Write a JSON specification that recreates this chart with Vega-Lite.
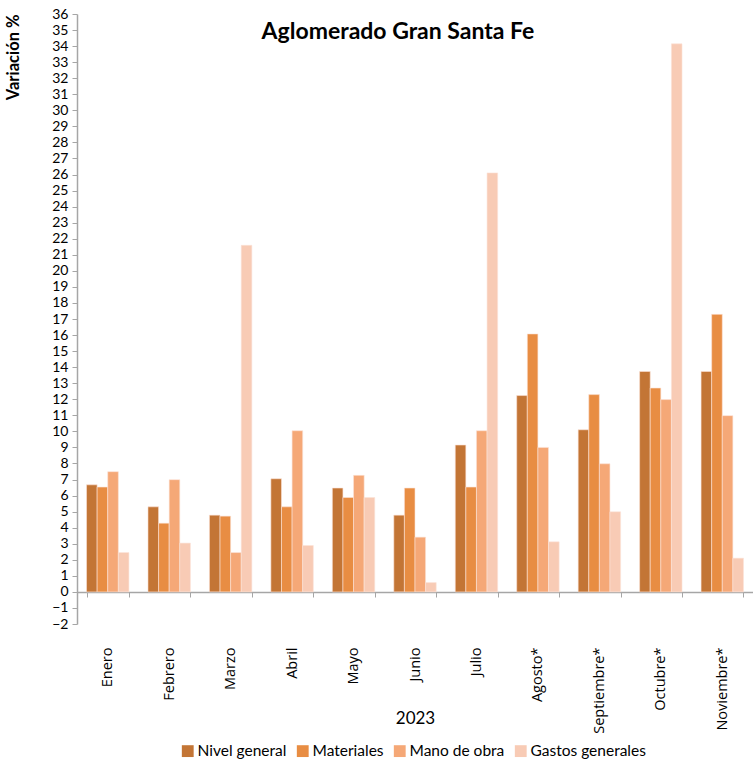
{
  "$schema": "https://vega.github.io/schema/vega-lite/v6.json",
  "autosize": {"type": "none"},
  "width": 676,
  "height": 610,
  "padding": {"left": 77, "top": 14, "right": 0, "bottom": 141},
  "background": "white",
  "config": {"view": {"stroke": null}, "font": "Lato"},
  "title": {"text": "Aglomerado Gran Santa Fe", "fontSize": 23, "fontWeight": "bold", "font": "Lato", "color": "black", "anchor": "middle", "offset": 0, "dy": 37, "dx": -17},
  "data": {"values": [
    {"mes": "Enero", "serie": "Nivel general", "v": 6.67},
    {"mes": "Enero", "serie": "Materiales", "v": 6.53},
    {"mes": "Enero", "serie": "Mano de obra", "v": 7.49},
    {"mes": "Enero", "serie": "Gastos generales", "v": 2.45},
    {"mes": "Febrero", "serie": "Nivel general", "v": 5.30},
    {"mes": "Febrero", "serie": "Materiales", "v": 4.28},
    {"mes": "Febrero", "serie": "Mano de obra", "v": 6.99},
    {"mes": "Febrero", "serie": "Gastos generales", "v": 3.04},
    {"mes": "Marzo", "serie": "Nivel general", "v": 4.78},
    {"mes": "Marzo", "serie": "Materiales", "v": 4.72},
    {"mes": "Marzo", "serie": "Mano de obra", "v": 2.45},
    {"mes": "Marzo", "serie": "Gastos generales", "v": 21.59},
    {"mes": "Abril", "serie": "Nivel general", "v": 7.05},
    {"mes": "Abril", "serie": "Materiales", "v": 5.30},
    {"mes": "Abril", "serie": "Mano de obra", "v": 10.04},
    {"mes": "Abril", "serie": "Gastos generales", "v": 2.89},
    {"mes": "Mayo", "serie": "Nivel general", "v": 6.47},
    {"mes": "Mayo", "serie": "Materiales", "v": 5.88},
    {"mes": "Mayo", "serie": "Mano de obra", "v": 7.26},
    {"mes": "Mayo", "serie": "Gastos generales", "v": 5.88},
    {"mes": "Junio", "serie": "Nivel general", "v": 4.78},
    {"mes": "Junio", "serie": "Materiales", "v": 6.47},
    {"mes": "Junio", "serie": "Mano de obra", "v": 3.41},
    {"mes": "Junio", "serie": "Gastos generales", "v": 0.58},
    {"mes": "Julio", "serie": "Nivel general", "v": 9.15},
    {"mes": "Julio", "serie": "Materiales", "v": 6.53},
    {"mes": "Julio", "serie": "Mano de obra", "v": 10.04},
    {"mes": "Julio", "serie": "Gastos generales", "v": 26.1},
    {"mes": "Agosto*", "serie": "Nivel general", "v": 12.23},
    {"mes": "Agosto*", "serie": "Materiales", "v": 16.07},
    {"mes": "Agosto*", "serie": "Mano de obra", "v": 9.0},
    {"mes": "Agosto*", "serie": "Gastos generales", "v": 3.12},
    {"mes": "Septiembre*", "serie": "Nivel general", "v": 10.1},
    {"mes": "Septiembre*", "serie": "Materiales", "v": 12.29},
    {"mes": "Septiembre*", "serie": "Mano de obra", "v": 7.98},
    {"mes": "Septiembre*", "serie": "Gastos generales", "v": 4.99},
    {"mes": "Octubre*", "serie": "Nivel general", "v": 13.73},
    {"mes": "Octubre*", "serie": "Materiales", "v": 12.70},
    {"mes": "Octubre*", "serie": "Mano de obra", "v": 11.98},
    {"mes": "Octubre*", "serie": "Gastos generales", "v": 34.14},
    {"mes": "Noviembre*", "serie": "Nivel general", "v": 13.73},
    {"mes": "Noviembre*", "serie": "Materiales", "v": 17.29},
    {"mes": "Noviembre*", "serie": "Mano de obra", "v": 10.98},
    {"mes": "Noviembre*", "serie": "Gastos generales", "v": 2.1}
  ]},
  "mark": {"type": "bar", "stroke": "#fbe3d6", "strokeWidth": 0.6},
  "encoding": {
    "x": {
      "field": "mes", "type": "nominal", "sort": null,
      "scale": {"paddingInner": 0.31, "paddingOuter": 0.155},
      "axis": {
        "title": "2023", "titleFontSize": 17, "titleFontWeight": "normal", "titleFont": "Lato", "titleColor": "black",
        "titleY": 118, "titleBaseline": "top",
        "offset": -32, "domainColor": "#a6a6a6", "domainWidth": 1.5, "tickColor": "#a6a6a6", "tickSize": 5, "tickBand": "extent",
        "labelAngle": -90, "labelAlign": "right", "labelBaseline": "middle", "labelPadding": 50,
        "labelFontSize": 14.5, "labelColor": "black", "labelFont": "Open Sans"
      }
    },
    "xOffset": {"field": "serie", "type": "nominal", "sort": ["Nivel general", "Materiales", "Mano de obra", "Gastos generales"], "scale": {"paddingInner": 0, "paddingOuter": 0}},
    "y": {
      "field": "v", "type": "quantitative",
      "scale": {"domain": [-2, 36], "nice": false, "zero": false},
      "axis": {
        "values": [-2,-1,0,1,2,3,4,5,6,7,8,9,10,11,12,13,14,15,16,17,18,19,20,21,22,23,24,25,26,27,28,29,30,31,32,33,34,35,36],
        "grid": false, "domainColor": "#a6a6a6", "domainWidth": 1.5, "tickColor": "#a6a6a6", "tickSize": 5,
        "labelFontSize": 14, "labelColor": "black", "labelFont": "Lato", "labelPadding": 4,
        "title": "Variación %", "titleFontSize": 16.5, "titleFontWeight": "bold", "titleFont": "Lato", "titleColor": "black",
        "titleAnchor": "end", "titlePadding": 30
      }
    },
    "color": {
      "field": "serie", "type": "nominal",
      "scale": {"domain": ["Nivel general", "Materiales", "Mano de obra", "Gastos generales"], "range": ["#c37535", "#e88d43", "#f5a877", "#f8cbb5"]},
      "legend": {"title": null, "orient": "none", "direction": "horizontal", "legendX": 103, "legendY": 729, "symbolType": "square", "symbolSize": 140, "symbolStrokeWidth": 0, "labelFontSize": 15.5, "labelFont": "Lato", "labelColor": "black", "columnPadding": 8, "labelOffset": 2}
    }
  }
}
